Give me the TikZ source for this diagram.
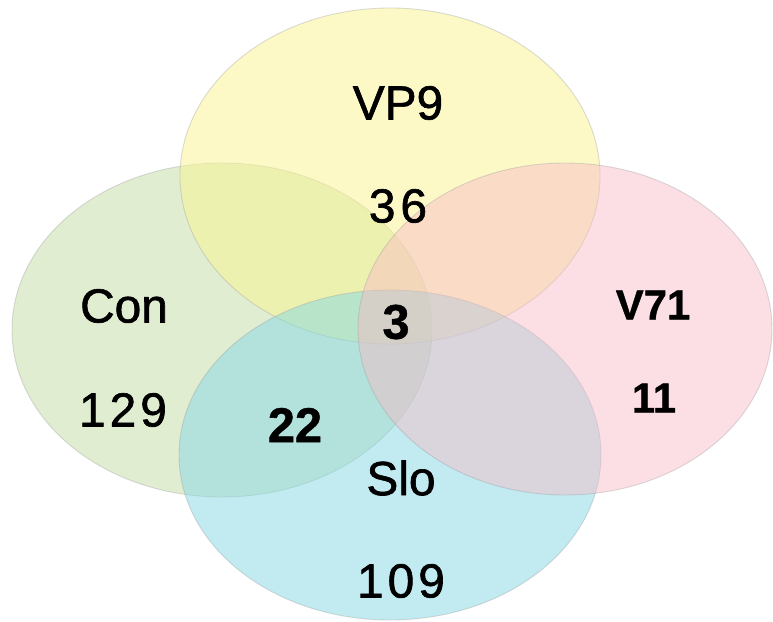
\documentclass[tikz,border=0pt]{standalone}
\usepackage{fontspec}
\setmainfont{Liberation Sans}
\newfontfamily\labelfont{Liberation Sans}[FakeBold=1.3]
\newfontfamily\countfont{Liberation Sans}[BoldFeatures={FakeBold=0.9}]
\definecolor{setYellow}{HTML}{FBF591}
\definecolor{setGreen}{HTML}{C3DDA5}
\definecolor{setPink}{HTML}{F9B9C5}
\definecolor{setCyan}{HTML}{85D9E5}
\definecolor{rimGrey}{HTML}{9A9A9A}
\begin{document}
\begin{tikzpicture}[x=1bp,y=-1bp,
  setarea/.style={fill opacity=0.5, draw=rimGrey, draw opacity=0.35, line width=0.9bp},
  lbl/.style={inner sep=0pt, anchor=center, font=\labelfont\fontsize{48}{52}\selectfont},
  boldnum/.style={inner sep=0pt, anchor=center, font=\countfont\fontsize{49}{53}\selectfont\bfseries},
  smallbold/.style={inner sep=0pt, anchor=center, font=\countfont\fontsize{42}{46}\selectfont\bfseries}]
  \useasboundingbox (0,0) rectangle (773,622);
  \fill[white] (0,0) rectangle (773,622);

  % the four sets
  \draw[setarea, fill=setGreen]  (222,330) ellipse [x radius=210, y radius=167];
  \draw[setarea, fill=setYellow] (390,176) ellipse [x radius=210, y radius=168];
  \draw[setarea, fill=setCyan]   (390,455) ellipse [x radius=211, y radius=165];
  \draw[setarea, fill=setPink, fill opacity=0.45] (565,329) ellipse [x radius=207, y radius=166];

  % set names
  \node[lbl] (vp9) at (398,103) {VP9};
  \node[lbl] (con) at (124,306) {Con};
  \node[lbl] (slo) at (401,478) {Slo};
  \node[smallbold] (v71) at (653,305) {V71};

  % counts
  \node[lbl] (n36)  at (398,206) {3\kern5bp 6};
  \node[lbl] (n129) at (123,410) {1\kern4bp 2\kern4bp 9};
  \node[lbl] (n109) at (401,581) {1\kern4bp 0\kern4bp 9};
  \node[boldnum] (n3)  at (396,322) {3};
  \node[boldnum] (n22) at (295,425) {22};
  \node[smallbold] (n11) at (654,398) {11};
\end{tikzpicture}
\end{document}
